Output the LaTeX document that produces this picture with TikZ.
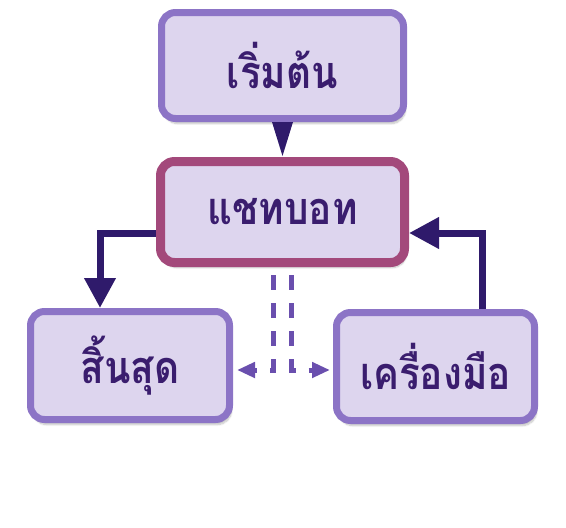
\documentclass[tikz,border=0pt]{standalone}
\usepackage{fontspec}
\newfontfamily\thaifont[Script=Thai,FakeStretch=0.86]{Loma}
\usetikzlibrary{arrows.meta,shadows.blur}
\definecolor{boxfill}{HTML}{DDD5EE}
\definecolor{boxline}{HTML}{8C74C6}
\definecolor{chatline}{HTML}{A3497B}
\definecolor{txtcol}{HTML}{3A1D6E}
\definecolor{arrcol}{HTML}{2F1A6B}
\definecolor{dashcol}{HTML}{6A4FAE}
\tikzset{
  box/.style={draw=boxline, fill=boxfill, line width=7pt, rounded corners=14pt,
    text=txtcol, font=\thaifont\bfseries\fontsize{45}{50}\selectfont,
    blur shadow={shadow xshift=2pt, shadow yshift=-5pt, shadow blur steps=8, shadow opacity=25}},
  chatbox/.style={box, draw=chatline, line width=9pt},
  flow/.style={draw=arrcol, line width=7pt, -{Triangle[width=30pt,length=30pt]}},
  dasharrow/.style={draw=dashcol, line width=5pt, dash pattern=on 15pt off 13pt,
    -{Triangle[width=15pt,length=18pt]}, shorten <=8pt}
}
\begin{document}
\begin{tikzpicture}[x=1pt,y=-1pt]
\useasboundingbox (0,0) rectangle (566,528);
\node[box, minimum width=242pt, minimum height=106pt] (start) at (282.5,65.5) {เริ่มต้น};
\node[chatbox, minimum width=244pt, minimum height=101pt] (chat) at (282.5,212) {แชทบอท};
\node[box, minimum width=199pt, minimum height=108pt] (end) at (130,365.5) {สิ้นสุด};
\node[box, minimum width=198pt, minimum height=108pt] (tools) at (435.5,366.5) {เครื่องมือ};
\fill[arrcol] ([xshift=-10.5pt]start.south) -- ([xshift=10.5pt]start.south) -- ([yshift=1pt]chat.north) -- cycle;
\draw[flow] ([yshift=-21pt]chat.west) -| ([xshift=-30pt]end.north);
\draw[flow] ([xshift=47pt]tools.north) |- ([yshift=-21pt]chat.east);
\draw[dasharrow] ([xshift=-9pt]chat.south) |- ([xshift=4pt,yshift=-4.5pt]end.east);
\draw[dasharrow] ([xshift=9pt]chat.south) |- ([xshift=-3pt,yshift=-3.5pt]tools.west);
\end{tikzpicture}
\end{document}
